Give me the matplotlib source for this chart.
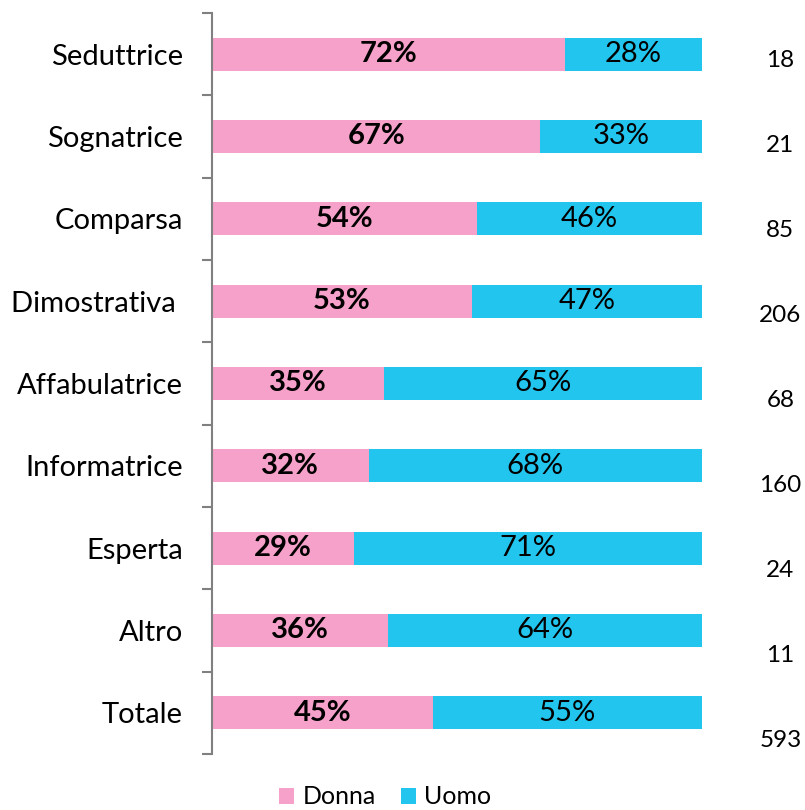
import matplotlib.pyplot as plt
from matplotlib.ticker import FixedLocator, NullLocator

plt.rcParams["font.family"] = ["Lato", "DejaVu Sans"]

categories = ["Seduttrice", "Sognatrice", "Comparsa", "Dimostrativa ", "Affabulatrice",
              "Informatrice", "Esperta", "Altro", "Totale"]
donna = [72, 67, 54, 53, 35, 32, 29, 36, 45]
uomo = [28, 33, 46, 47, 65, 68, 71, 64, 55]
counts = [18, 21, 85, 206, 68, 160, 24, 11, 593]

pink = "#F5A1C9"
blue = "#22C5ED"
grey = "#808080"

fig = plt.figure(figsize=(8.05, 8.10), dpi=100)
ax = fig.add_axes([212 / 805, 56 / 810, 490 / 805, 741 / 810])

ypos = list(range(len(categories)))
ax.barh(ypos, donna, height=0.4, color=pink, label="Donna")
ax.barh(ypos, uomo, left=donna, height=0.4, color=blue, label="Uomo")

for y, d, u in zip(ypos, donna, uomo):
    ax.text(d / 2, y, f"{d}%", ha="center", va="center", fontsize=21, fontweight="bold")
    ax.text(d + u / 2, y, f"{u}%", ha="center", va="center", fontsize=21)

# sample sizes sit in a column right of the bars, drifting slightly lower row by row
for y, n in zip(ypos, counts):
    ax.text(116, y * 1.033 + 0.075, str(n), ha="center", va="center", fontsize=17.5,
            clip_on=False)

ax.set_xlim(0, 100)
ax.set_ylim(len(categories) - 0.5, -0.5)
ax.set_yticks(ypos)
ax.set_yticklabels(categories, fontsize=21)
ax.yaxis.set_minor_locator(FixedLocator([i - 0.5 for i in range(len(categories) + 1)]))
ax.tick_params(axis="y", which="major", length=0, pad=21)
ax.tick_params(axis="y", which="minor", length=7, width=1.5, color=grey, direction="out")
ax.xaxis.set_major_locator(NullLocator())

for side in ["top", "right", "bottom"]:
    ax.spines[side].set_visible(False)
ax.spines["left"].set_color(grey)
ax.spines["left"].set_linewidth(1.5)

fig.legend(loc="center", bbox_to_anchor=(385 / 805, 1 - 797 / 810), ncol=2, frameon=False,
           fontsize=18, handlelength=0.6, handleheight=0.6, handletextpad=0.35,
           columnspacing=1.0, borderaxespad=0)

fig.savefig("out.png", dpi=100)
